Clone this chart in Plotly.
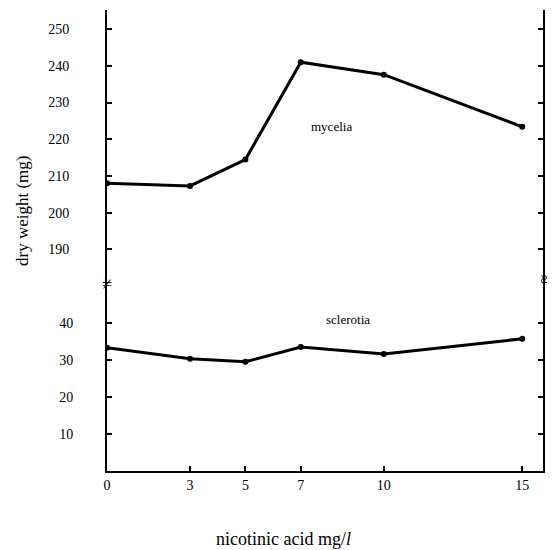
import plotly.graph_objects as go

# ---- data ----
nicotinic = [0, 3, 5, 7, 10, 15]
mycelia = [208.0, 207.3, 214.5, 241.0, 237.6, 223.4]
sclerotia = [33.3, 30.3, 29.5, 33.5, 31.6, 35.7]

x_ticks = [0, 3, 5, 7, 10, 15]
upper_ticks = [190, 200, 210, 220, 230, 240, 250]
lower_ticks = [10, 20, 30, 40]

FONT = "Liberation Serif, DejaVu Serif, serif"
BREAK = 0.4056

ML, MR, MT, MB = 107, 11, 10, 79
W, H = 554, 550
plot_w = W - ML - MR
plot_h = H - MT - MB


def px_x(px):
    return (px - ML) / plot_w


def px_y(py):
    return (H - MB - py) / plot_h


fig = go.Figure()
fig.add_trace(go.Scatter(
    x=nicotinic, y=mycelia, mode="lines+markers", yaxis="y2",
    line=dict(color="black", width=3), marker=dict(color="black", size=6),
    showlegend=False))
fig.add_trace(go.Scatter(
    x=nicotinic, y=sclerotia, mode="lines+markers", yaxis="y",
    line=dict(color="black", width=3), marker=dict(color="black", size=6),
    showlegend=False))

axis_common = dict(showgrid=False, zeroline=False, showline=True,
                   linecolor="black", linewidth=2, ticks="inside",
                   ticklen=5, tickwidth=2, tickcolor="black",
                   tickfont=dict(family=FONT, size=14, color="black"))

fig.update_layout(
    width=W, height=H,
    margin=dict(l=ML, r=MR, t=MT, b=MB),
    paper_bgcolor="white", plot_bgcolor="white",
    font=dict(family=FONT, color="black"),
    xaxis=dict(range=[0, 15.75], tickvals=x_ticks,
               ticktext=[str(v) for v in x_ticks],
               anchor="y", **axis_common),
    xaxis2=dict(range=[0, 15.75], overlaying="x", side="top", anchor="y2",
                tickvals=[10, 15], showticklabels=False, **axis_common),
    yaxis=dict(domain=[0, BREAK], range=[0, 50.5], tickvals=lower_ticks,
               ticktext=[str(v) for v in lower_ticks], mirror="ticks",
               ticklabelstandoff=29, **axis_common),
    yaxis2=dict(domain=[BREAK, 1], range=[180.6, 255.2], tickvals=upper_ticks,
                ticktext=[str(v) for v in upper_ticks], mirror="ticks",
                ticklabelstandoff=33, **axis_common),
    annotations=[
        dict(text="mycelia", x=8.1, y=223.5, xref="x", yref="y2",
             showarrow=False, font=dict(family=FONT, size=13)),
        dict(text="sclerotia", x=8.7, y=40.8, xref="x", yref="y",
             showarrow=False, font=dict(family=FONT, size=13)),
        dict(text="dry weight (mg)", textangle=-90, x=px_x(22), y=px_y(211),
             xref="paper", yref="paper", xanchor="center", yanchor="middle",
             showarrow=False, font=dict(family=FONT, size=17)),
        dict(text="nicotinic acid mg/<i>l</i>", x=px_x(283), y=px_y(539),
             xref="paper", yref="paper", xanchor="center", yanchor="middle",
             showarrow=False, font=dict(family=FONT, size=18)),
        dict(text="≠", x=0, y=BREAK, xref="paper", yref="paper",
             xanchor="center", yanchor="middle",
             showarrow=False, font=dict(family=FONT, size=18)),
        dict(text="≈", x=1, y=BREAK + 0.01, xref="paper", yref="paper",
             xanchor="center", yanchor="middle",
             textangle=-90, showarrow=False, font=dict(family=FONT, size=16)),
    ],
)

fig.write_html("out.html")
